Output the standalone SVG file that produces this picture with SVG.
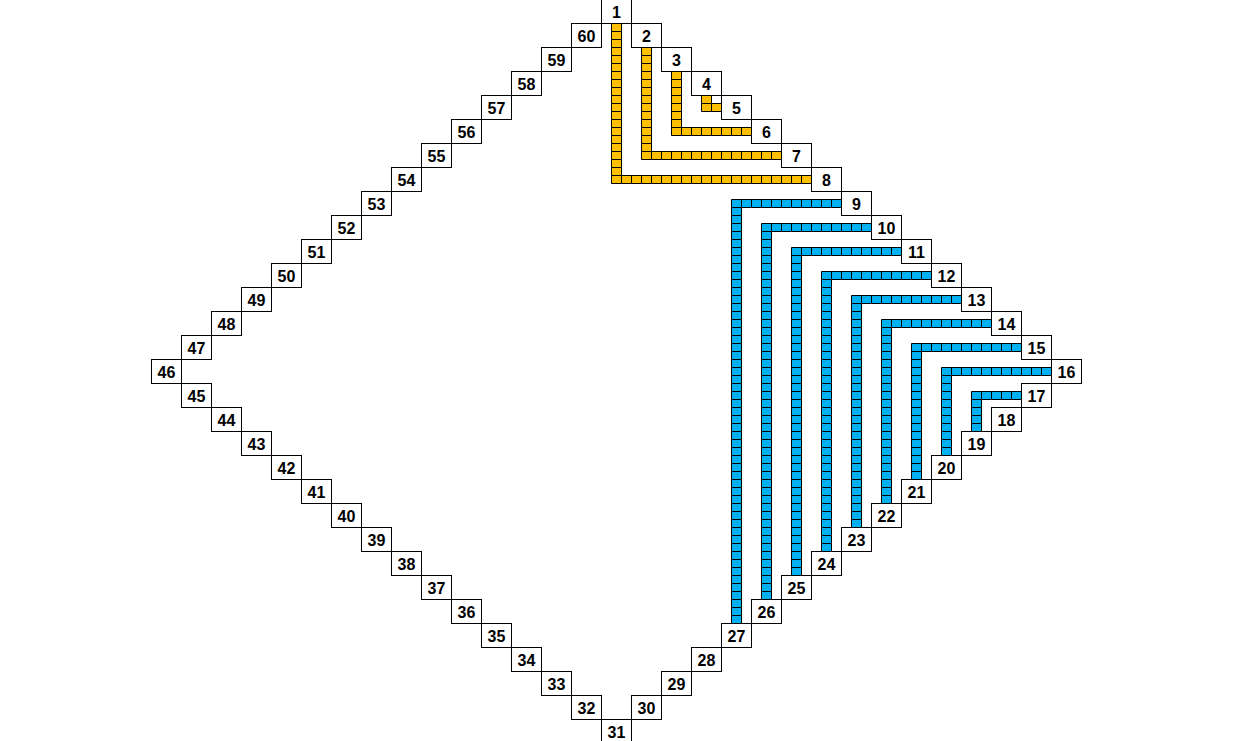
<svg xmlns="http://www.w3.org/2000/svg" width="1238" height="741" viewBox="0 0 1238 741">
<style>
.cell rect{fill:#fff;stroke:#000;stroke-width:1}
.cell text{font-family:"Liberation Sans",Arial,sans-serif;font-weight:bold;font-size:16px;fill:#000;text-anchor:middle}
.og{fill:url(#pOrange);stroke:#000;stroke-width:1}
.bl{fill:url(#pBlue);stroke:#000;stroke-width:1}
</style>
<defs>
<pattern id="pOrange" patternUnits="userSpaceOnUse" x="601" y="-1" width="10" height="8">
<rect width="10" height="8" fill="#FFC000"/><rect width="10" height="1" fill="#000"/><rect width="1" height="8" fill="#000"/>
</pattern>
<pattern id="pBlue" patternUnits="userSpaceOnUse" x="601" y="-1" width="10" height="8">
<rect width="10" height="8" fill="#00B0F0"/><rect width="10" height="1" fill="#000"/><rect width="1" height="8" fill="#000"/>
</pattern>
</defs>
<rect width="1238" height="741" fill="#fff"/>
<g id="connectors">
<path class="og" d="M611.5,23.5H621.5V175.5H811.5V183.5H611.5Z"/>
<path class="og" d="M641.5,47.5H651.5V151.5H781.5V159.5H641.5Z"/>
<path class="og" d="M671.5,71.5H681.5V127.5H751.5V135.5H671.5Z"/>
<path class="og" d="M701.5,95.5H711.5V103.5H721.5V111.5H701.5Z"/>
<path class="bl" d="M731.5,199.5H841.5V207.5H741.5V623.5H731.5Z"/>
<path class="bl" d="M761.5,223.5H871.5V231.5H771.5V599.5H761.5Z"/>
<path class="bl" d="M791.5,247.5H901.5V255.5H801.5V575.5H791.5Z"/>
<path class="bl" d="M821.5,271.5H931.5V279.5H831.5V551.5H821.5Z"/>
<path class="bl" d="M851.5,295.5H961.5V303.5H861.5V527.5H851.5Z"/>
<path class="bl" d="M881.5,319.5H991.5V327.5H891.5V503.5H881.5Z"/>
<path class="bl" d="M911.5,343.5H1021.5V351.5H921.5V479.5H911.5Z"/>
<path class="bl" d="M941.5,367.5H1051.5V375.5H951.5V455.5H941.5Z"/>
<path class="bl" d="M971.5,391.5H1021.5V399.5H981.5V431.5H971.5Z"/>
</g>
<g id="n1" class="cell" transform="translate(601.5,-0.5)"><rect width="30" height="24"/><text x="15" y="18">1</text></g>
<g id="n2" class="cell" transform="translate(631.5,23.5)"><rect width="30" height="24"/><text x="15" y="18">2</text></g>
<g id="n3" class="cell" transform="translate(661.5,47.5)"><rect width="30" height="24"/><text x="15" y="18">3</text></g>
<g id="n4" class="cell" transform="translate(691.5,71.5)"><rect width="30" height="24"/><text x="15" y="18">4</text></g>
<g id="n5" class="cell" transform="translate(721.5,95.5)"><rect width="30" height="24"/><text x="15" y="18">5</text></g>
<g id="n6" class="cell" transform="translate(751.5,119.5)"><rect width="30" height="24"/><text x="15" y="18">6</text></g>
<g id="n7" class="cell" transform="translate(781.5,143.5)"><rect width="30" height="24"/><text x="15" y="18">7</text></g>
<g id="n8" class="cell" transform="translate(811.5,167.5)"><rect width="30" height="24"/><text x="15" y="18">8</text></g>
<g id="n9" class="cell" transform="translate(841.5,191.5)"><rect width="30" height="24"/><text x="15" y="18">9</text></g>
<g id="n10" class="cell" transform="translate(871.5,215.5)"><rect width="30" height="24"/><text x="15" y="18">10</text></g>
<g id="n11" class="cell" transform="translate(901.5,239.5)"><rect width="30" height="24"/><text x="15" y="18">11</text></g>
<g id="n12" class="cell" transform="translate(931.5,263.5)"><rect width="30" height="24"/><text x="15" y="18">12</text></g>
<g id="n13" class="cell" transform="translate(961.5,287.5)"><rect width="30" height="24"/><text x="15" y="18">13</text></g>
<g id="n14" class="cell" transform="translate(991.5,311.5)"><rect width="30" height="24"/><text x="15" y="18">14</text></g>
<g id="n15" class="cell" transform="translate(1021.5,335.5)"><rect width="30" height="24"/><text x="15" y="18">15</text></g>
<g id="n16" class="cell" transform="translate(1051.5,359.5)"><rect width="30" height="24"/><text x="15" y="18">16</text></g>
<g id="n17" class="cell" transform="translate(1021.5,383.5)"><rect width="30" height="24"/><text x="15" y="18">17</text></g>
<g id="n18" class="cell" transform="translate(991.5,407.5)"><rect width="30" height="24"/><text x="15" y="18">18</text></g>
<g id="n19" class="cell" transform="translate(961.5,431.5)"><rect width="30" height="24"/><text x="15" y="18">19</text></g>
<g id="n20" class="cell" transform="translate(931.5,455.5)"><rect width="30" height="24"/><text x="15" y="18">20</text></g>
<g id="n21" class="cell" transform="translate(901.5,479.5)"><rect width="30" height="24"/><text x="15" y="18">21</text></g>
<g id="n22" class="cell" transform="translate(871.5,503.5)"><rect width="30" height="24"/><text x="15" y="18">22</text></g>
<g id="n23" class="cell" transform="translate(841.5,527.5)"><rect width="30" height="24"/><text x="15" y="18">23</text></g>
<g id="n24" class="cell" transform="translate(811.5,551.5)"><rect width="30" height="24"/><text x="15" y="18">24</text></g>
<g id="n25" class="cell" transform="translate(781.5,575.5)"><rect width="30" height="24"/><text x="15" y="18">25</text></g>
<g id="n26" class="cell" transform="translate(751.5,599.5)"><rect width="30" height="24"/><text x="15" y="18">26</text></g>
<g id="n27" class="cell" transform="translate(721.5,623.5)"><rect width="30" height="24"/><text x="15" y="18">27</text></g>
<g id="n28" class="cell" transform="translate(691.5,647.5)"><rect width="30" height="24"/><text x="15" y="18">28</text></g>
<g id="n29" class="cell" transform="translate(661.5,671.5)"><rect width="30" height="24"/><text x="15" y="18">29</text></g>
<g id="n30" class="cell" transform="translate(631.5,695.5)"><rect width="30" height="24"/><text x="15" y="18">30</text></g>
<g id="n31" class="cell" transform="translate(601.5,719.5)"><rect width="30" height="24"/><text x="15" y="18">31</text></g>
<g id="n32" class="cell" transform="translate(571.5,695.5)"><rect width="30" height="24"/><text x="15" y="18">32</text></g>
<g id="n33" class="cell" transform="translate(541.5,671.5)"><rect width="30" height="24"/><text x="15" y="18">33</text></g>
<g id="n34" class="cell" transform="translate(511.5,647.5)"><rect width="30" height="24"/><text x="15" y="18">34</text></g>
<g id="n35" class="cell" transform="translate(481.5,623.5)"><rect width="30" height="24"/><text x="15" y="18">35</text></g>
<g id="n36" class="cell" transform="translate(451.5,599.5)"><rect width="30" height="24"/><text x="15" y="18">36</text></g>
<g id="n37" class="cell" transform="translate(421.5,575.5)"><rect width="30" height="24"/><text x="15" y="18">37</text></g>
<g id="n38" class="cell" transform="translate(391.5,551.5)"><rect width="30" height="24"/><text x="15" y="18">38</text></g>
<g id="n39" class="cell" transform="translate(361.5,527.5)"><rect width="30" height="24"/><text x="15" y="18">39</text></g>
<g id="n40" class="cell" transform="translate(331.5,503.5)"><rect width="30" height="24"/><text x="15" y="18">40</text></g>
<g id="n41" class="cell" transform="translate(301.5,479.5)"><rect width="30" height="24"/><text x="15" y="18">41</text></g>
<g id="n42" class="cell" transform="translate(271.5,455.5)"><rect width="30" height="24"/><text x="15" y="18">42</text></g>
<g id="n43" class="cell" transform="translate(241.5,431.5)"><rect width="30" height="24"/><text x="15" y="18">43</text></g>
<g id="n44" class="cell" transform="translate(211.5,407.5)"><rect width="30" height="24"/><text x="15" y="18">44</text></g>
<g id="n45" class="cell" transform="translate(181.5,383.5)"><rect width="30" height="24"/><text x="15" y="18">45</text></g>
<g id="n46" class="cell" transform="translate(151.5,359.5)"><rect width="30" height="24"/><text x="15" y="18">46</text></g>
<g id="n47" class="cell" transform="translate(181.5,335.5)"><rect width="30" height="24"/><text x="15" y="18">47</text></g>
<g id="n48" class="cell" transform="translate(211.5,311.5)"><rect width="30" height="24"/><text x="15" y="18">48</text></g>
<g id="n49" class="cell" transform="translate(241.5,287.5)"><rect width="30" height="24"/><text x="15" y="18">49</text></g>
<g id="n50" class="cell" transform="translate(271.5,263.5)"><rect width="30" height="24"/><text x="15" y="18">50</text></g>
<g id="n51" class="cell" transform="translate(301.5,239.5)"><rect width="30" height="24"/><text x="15" y="18">51</text></g>
<g id="n52" class="cell" transform="translate(331.5,215.5)"><rect width="30" height="24"/><text x="15" y="18">52</text></g>
<g id="n53" class="cell" transform="translate(361.5,191.5)"><rect width="30" height="24"/><text x="15" y="18">53</text></g>
<g id="n54" class="cell" transform="translate(391.5,167.5)"><rect width="30" height="24"/><text x="15" y="18">54</text></g>
<g id="n55" class="cell" transform="translate(421.5,143.5)"><rect width="30" height="24"/><text x="15" y="18">55</text></g>
<g id="n56" class="cell" transform="translate(451.5,119.5)"><rect width="30" height="24"/><text x="15" y="18">56</text></g>
<g id="n57" class="cell" transform="translate(481.5,95.5)"><rect width="30" height="24"/><text x="15" y="18">57</text></g>
<g id="n58" class="cell" transform="translate(511.5,71.5)"><rect width="30" height="24"/><text x="15" y="18">58</text></g>
<g id="n59" class="cell" transform="translate(541.5,47.5)"><rect width="30" height="24"/><text x="15" y="18">59</text></g>
<g id="n60" class="cell" transform="translate(571.5,23.5)"><rect width="30" height="24"/><text x="15" y="18">60</text></g>
</svg>
